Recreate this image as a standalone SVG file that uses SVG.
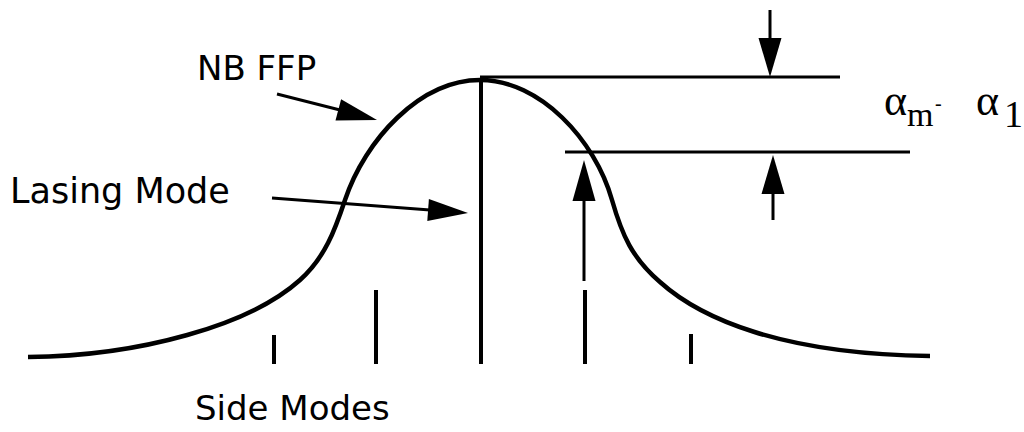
<svg xmlns="http://www.w3.org/2000/svg" width="1024" height="432" viewBox="0 0 1024 432">
<style>
.ln{stroke:#000;fill:none;stroke-linecap:butt}
.curve{stroke:#000;fill:none;stroke-width:4.5}
.tick{stroke:#000;stroke-width:4}
.sh{stroke:#000;stroke-width:3}
.hd{fill:#000;stroke:none}
.lbl{font-family:"DejaVu Sans","Liberation Sans",sans-serif;font-size:34px;fill:#000}
.math{font-family:"Liberation Serif","DejaVu Serif",serif;font-size:38px;fill:#000}
</style>
<rect width="1024" height="432" fill="#fff"/>
<g id="profile">
<path class="curve" d="M28 357 C140 356 250 325 300 280 C325 257.5 335 230 345 200 C365 140 420 80 480 80 C540 80 595 140 612 200 C622 235 632 258 660 282 C700 318 780 354 930 356"/>
</g>
<g id="modes">
<line class="tick" x1="481" y1="78" x2="481" y2="364"/>
<line class="tick" x1="274" y1="335" x2="274" y2="364"/>
<line class="tick" x1="376" y1="290" x2="376" y2="364"/>
<line class="tick" x1="585" y1="290" x2="585" y2="364"/>
<line class="tick" x1="691" y1="334" x2="691" y2="364"/>
</g>
<g id="levels">
<line class="ln" stroke-width="3" x1="480" y1="77" x2="840" y2="77"/>
<line class="ln" stroke-width="3" x1="565" y1="152" x2="910" y2="152"/>
</g>
<g id="connectors">
<line class="sh" x1="277" y1="94" x2="340" y2="110"/>
<polygon class="hd" points="377,120 335.5,120.5 341.1,99.3"/>
<line class="sh" x1="272" y1="198" x2="430" y2="210"/>
<polygon class="hd" points="468,213 427.3,220.9 428.9,198.9"/>
<line class="sh" x1="584" y1="198" x2="584" y2="281"/>
<polygon class="hd" points="584,160 572.5,201 595.5,201"/>
<line class="sh" x1="770" y1="10" x2="770" y2="40"/>
<polygon class="hd" points="770,77 758.5,38 781.5,38"/>
<line class="sh" x1="773" y1="190" x2="773" y2="220"/>
<polygon class="hd" points="773,155 761.5,194 784.5,194"/>
</g>
<g id="label-nbffp"><text class="lbl" x="197" y="80">NB FFP</text></g>
<g id="label-lasing"><text class="lbl" x="10" y="203" style="font-size:35px">Lasing Mode</text></g>
<g id="label-side"><text class="lbl" x="195" y="420">Side Modes</text></g>
<g id="label-delta">
<text class="math"><tspan x="884" y="115" style="font-size:44px">α</tspan><tspan x="907" y="126" style="font-size:34px">m</tspan><tspan x="935" y="110" style="font-size:20px">-</tspan><tspan x="976" y="115" style="font-size:44px">α</tspan><tspan x="1004" y="127">1</tspan></text>
</g>
</svg>
